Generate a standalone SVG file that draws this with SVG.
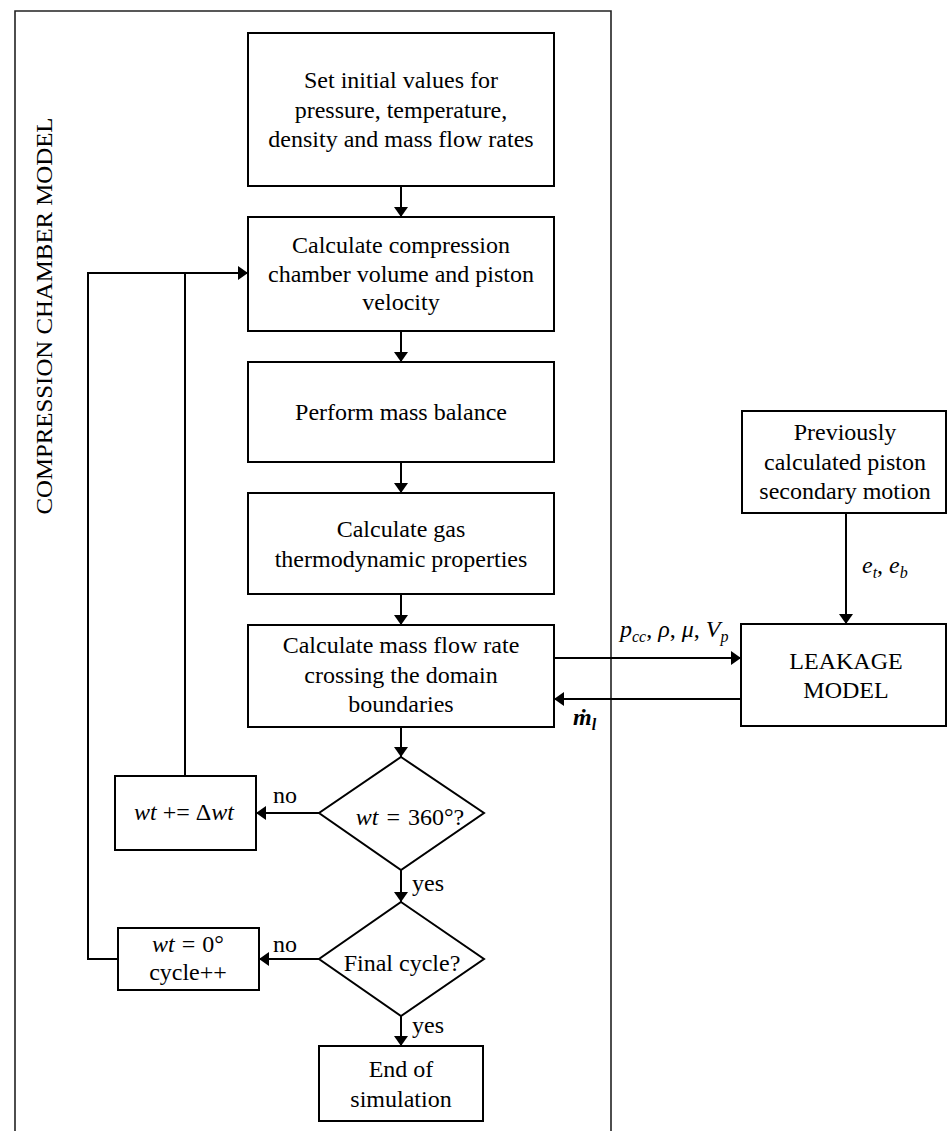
<svg xmlns="http://www.w3.org/2000/svg" width="948" height="1131" viewBox="0 0 948 1131">
<defs>
<style>
.box{fill:#fff;stroke:#000;stroke-width:2}
.ln{fill:none;stroke:#000;stroke-width:2}
text{font-family:'Liberation Serif','Times New Roman','DejaVu Serif',serif;font-size:24px;fill:#000}
.t{text-anchor:middle}
.m{font-style:italic}
.s{font-size:16px;font-style:italic}
</style>
<marker id="ah" viewBox="0 0 10 14" refX="10" refY="7" markerWidth="10" markerHeight="14" markerUnits="userSpaceOnUse" orient="auto">
<path d="M0,0 L10,7 L0,14 z" fill="#000"/>
</marker>
</defs>
<rect x="0" y="0" width="948" height="1131" fill="#fff"/>

<g id="frame">
<path d="M15,1135 V11 H611 V1135" fill="none" stroke="#222" stroke-width="1.6"/>
<text class="t" transform="translate(52,316) rotate(-90)" font-size="25" textLength="397" lengthAdjust="spacingAndGlyphs">COMPRESSION CHAMBER MODEL</text>
</g>

<g id="connectors">
<line class="ln" x1="401" y1="186" x2="401" y2="217" marker-end="url(#ah)"/>
<line class="ln" x1="401" y1="331" x2="401" y2="362" marker-end="url(#ah)"/>
<line class="ln" x1="401" y1="462" x2="401" y2="493" marker-end="url(#ah)"/>
<line class="ln" x1="401" y1="594" x2="401" y2="625" marker-end="url(#ah)"/>
<line class="ln" x1="401" y1="727" x2="401" y2="757" marker-end="url(#ah)"/>
<line class="ln" x1="319" y1="813" x2="256" y2="813" marker-end="url(#ah)"/>
<line class="ln" x1="401" y1="870" x2="401" y2="902" marker-end="url(#ah)"/>
<line class="ln" x1="319" y1="959" x2="259" y2="959" marker-end="url(#ah)"/>
<line class="ln" x1="401" y1="1016" x2="401" y2="1046" marker-end="url(#ah)"/>
<line class="ln" x1="185" y1="776" x2="185" y2="273"/>
<polyline class="ln" points="118,959 88,959 88,273 248,273" marker-end="url(#ah)"/>
<line class="ln" x1="554" y1="658" x2="741" y2="658" marker-end="url(#ah)"/>
<line class="ln" x1="741" y1="699" x2="554" y2="699" marker-end="url(#ah)"/>
<line class="ln" x1="846" y1="513" x2="846" y2="624" marker-end="url(#ah)"/>
<text x="273" y="803">no</text>
<text x="273" y="952">no</text>
<text x="412" y="891">yes</text>
<text x="412" y="1033">yes</text>
<text x="620" y="637"><tspan class="m">p</tspan><tspan class="s" dy="5">cc</tspan><tspan dy="-5">, </tspan><tspan class="m">ρ</tspan>, <tspan class="m">μ</tspan>, <tspan class="m">V</tspan><tspan class="s" dy="5">p</tspan></text>
<text x="862" y="573"><tspan class="m">e</tspan><tspan class="s" dy="5">t</tspan><tspan dy="-5">, </tspan><tspan class="m">e</tspan><tspan class="s" dy="5">b</tspan></text>
<text x="573" y="725" font-weight="bold" font-size="26"><tspan class="m">ṁ</tspan><tspan class="s" dy="5">l</tspan></text>
</g>

<g id="n1">
<rect class="box" x="248" y="33" width="306" height="153"/>
<text class="t" x="401" y="88">Set initial values for</text>
<text class="t" x="401" y="118">pressure, temperature,</text>
<text class="t" x="401" y="147">density and mass flow rates</text>
</g>
<g id="n2">
<rect class="box" x="248" y="217" width="306" height="114"/>
<text class="t" x="401" y="253">Calculate compression</text>
<text class="t" x="401" y="282">chamber volume and piston</text>
<text class="t" x="401" y="310">velocity</text>
</g>
<g id="n3">
<rect class="box" x="248" y="362" width="306" height="100"/>
<text class="t" x="401" y="420">Perform mass balance</text>
</g>
<g id="n4">
<rect class="box" x="248" y="493" width="306" height="101"/>
<text class="t" x="401" y="537">Calculate gas</text>
<text class="t" x="401" y="567">thermodynamic properties</text>
</g>
<g id="n5">
<rect class="box" x="248" y="625" width="306" height="102"/>
<text class="t" x="401" y="653">Calculate mass flow rate</text>
<text class="t" x="401" y="683">crossing the domain</text>
<text class="t" x="401" y="712">boundaries</text>
</g>
<g id="d1">
<polygon class="box" points="401,757 484,813 401,870 319,813"/>
<text class="t" x="410" y="825"><tspan class="m">wt</tspan><tspan dx="8">=</tspan><tspan dx="8">360°?</tspan></text>
</g>
<g id="inc">
<rect class="box" x="115" y="776" width="141" height="74"/>
<text class="t" x="184" y="820"><tspan class="m">wt</tspan> += Δ<tspan class="m">wt</tspan></text>
</g>
<g id="d2">
<polygon class="box" points="401,902 484,959 401,1016 319,959"/>
<text class="t" x="402" y="971">Final cycle?</text>
</g>
<g id="reset">
<rect class="box" x="118" y="928" width="141" height="62"/>
<text class="t" x="188" y="952"><tspan class="m">wt</tspan><tspan dx="7">=</tspan><tspan dx="7">0°</tspan></text>
<text class="t" x="188" y="980">cycle++</text>
</g>
<g id="end">
<rect class="box" x="319" y="1046" width="164" height="75"/>
<text class="t" x="401" y="1077">End of</text>
<text class="t" x="401" y="1107">simulation</text>
</g>
<g id="prev">
<rect class="box" x="742" y="411" width="204" height="102"/>
<text class="t" x="845" y="440">Previously</text>
<text class="t" x="845" y="470">calculated piston</text>
<text class="t" x="845" y="499">secondary motion</text>
</g>
<g id="leak">
<rect class="box" x="741" y="624" width="205" height="102"/>
<text class="t" x="846" y="669">LEAKAGE</text>
<text class="t" x="846" y="698">MODEL</text>
</g>
</svg>
